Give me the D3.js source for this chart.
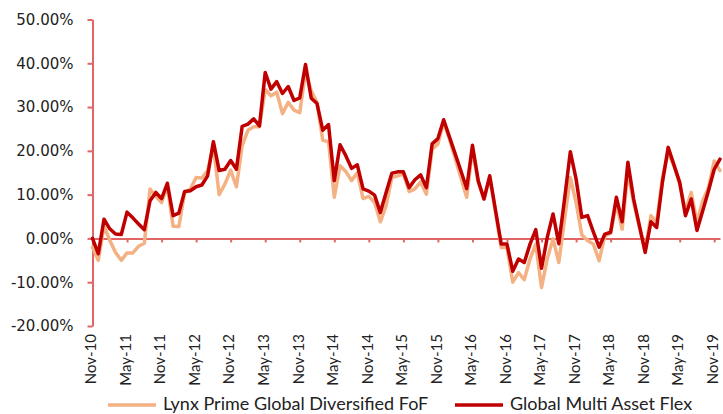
<!DOCTYPE html>
<html>
<head>
<meta charset="utf-8">
<script src="https://cdn.jsdelivr.net/npm/d3@7"></script>
<style>
  body { margin: 0; background: #fff; }
</style>
</head>
<body>
<div id="chart"></div>
<script>
// monthly returns, Nov-10 .. Dec-19 (percent)
const tickLabels = ["Nov-10", "May-11", "Nov-11", "May-12", "Nov-12", "May-13", "Nov-13", "May-14", "Nov-14",
    "May-15", "Nov-15", "May-16", "Nov-16", "May-17", "Nov-17", "May-18", "Nov-18", "May-19", "Nov-19"];

const yTicks = [-20, -10, 0, 10, 20, 30, 40, 50];

const seriesNames = ["Lynx Prime Global Diversified FoF", "Global Multi Asset Flex"];

const lynx = [
    -2.0, -5.0, 2.8, -0.4, -3.2, -5.0, -3.3, -3.3, -1.8, -1.1,
    11.3, 9.6, 8.2, 12.0, 2.8, 2.7, 10.5, 11.3, 13.9, 13.8,
    15.5, 21.2, 10.0, 12.4, 15.6, 11.8, 21.2, 24.7, 25.5, 25.5,
    34.0, 32.6, 33.4, 28.5, 31.1, 29.3, 28.7, 38.2, 33.7, 31.0,
    22.4, 22.1, 9.4, 16.6, 15.3, 13.2, 15.0, 9.1, 9.6, 8.2,
    3.8, 7.5, 13.9, 14.3, 14.7, 10.7, 11.3, 12.9, 10.1, 20.4,
    21.6, 26.5, 22.7, 18.3, 13.8, 9.4, 20.4, 12.8, 9.0, 13.9,
    6.0, -2.1, -2.1, -10.0, -7.8, -9.4, -4.7, -1.3, -11.2, -4.6,
    -0.1, -5.5, 4.4, 13.9, 8.2, 0.8, -0.5, -1.3, -5.1, 0.6,
    1.2, 7.9, 2.1, 15.1, 8.2, 2.5, -2.8, 5.2, 3.7, 13.9,
    19.6, 16.6, 12.4, 6.3, 10.5, 3.7, 8.6, 11.6, 17.7, 15.5
];

const flex = [
    0.0, -3.5, 4.4, 2.2, 1.0, 0.9, 6.0, 4.7, 3.3, 2.0,
    8.6, 10.5, 9.1, 12.6, 5.2, 5.8, 10.7, 10.9, 11.8, 12.2,
    14.3, 22.1, 15.5, 15.8, 17.8, 15.8, 25.6, 26.1, 27.3, 25.7,
    37.9, 34.1, 35.8, 33.1, 34.7, 31.5, 32.1, 39.7, 32.0, 30.8,
    24.7, 26.0, 13.2, 21.4, 18.9, 16.0, 16.8, 11.3, 10.8, 9.9,
    5.9, 10.5, 14.9, 15.2, 15.2, 11.6, 13.4, 14.5, 11.6, 21.6,
    22.8, 27.1, 23.2, 19.3, 15.4, 11.4, 21.3, 13.2, 9.0, 14.3,
    6.5, -1.3, -1.3, -7.5, -4.7, -5.5, -1.3, 2.0, -6.8, 0.3,
    5.6, -1.2, 9.0, 19.8, 13.6, 4.8, 5.2, 1.5, -2.0, 1.0,
    1.4, 9.4, 3.8, 17.4, 9.0, 2.9, -3.2, 3.8, 2.5, 12.8,
    20.8, 16.8, 12.8, 5.2, 9.0, 1.8, 6.3, 10.9, 15.8, 18.1
];

const colors = ["#f4b183", "#c00000"];
const axisColor = "#e06666";

const width = 723, height = 414;

const svg = d3.select('#chart')
    .append('svg')
    .attr('width', width)
    .attr('height', height)
    .style('font-family', 'Lato, sans-serif');

const x = d3.scaleLinear().domain([0, lynx.length - 1]).range([92.5, 720]);
const y = d3.scaleLinear().domain([-20, 50]).range([326, 19.5]);

// y axis
const yAxis = svg.append('g')
    .attr('transform', 'translate(92.5,0)')
    .call(d3.axisLeft(y)
        .tickValues(yTicks)
        .tickSize(5)
        .tickSizeOuter(0)
        .tickPadding(14)
        .tickFormat(d => d.toFixed(2) + '%'));

yAxis.select('.domain').attr('stroke', axisColor).attr('stroke-width', 2);
yAxis.selectAll('.tick line').attr('stroke', axisColor).attr('stroke-width', 2);
yAxis.selectAll('.tick text')
    .attr('fill', '#222')
    .style('font-family', '"DejaVu Sans", sans-serif')
    .style('font-size', '15px');

// x axis at zero
const tickIdx = tickLabels.map((d, i) => i * 6);

const xAxis = svg.append('g')
    .attr('transform', `translate(0,${y(0)})`)
    .call(d3.axisBottom(x)
        .tickValues(tickIdx)
        .tickSize(4)
        .tickSizeOuter(0)
        .tickFormat(''));

xAxis.select('.domain').attr('stroke', axisColor).attr('stroke-width', 2);
xAxis.selectAll('.tick line').attr('stroke', axisColor).attr('stroke-width', 2);

svg.append('g')
    .selectAll('text')
    .data(tickLabels)
    .join('text')
    .attr('transform', (d, i) => `translate(${x(tickIdx[i])},334) rotate(-90)`)
    .attr('text-anchor', 'end')
    .attr('dominant-baseline', 'middle')
    .attr('fill', '#222')
    .style('font-size', '15px')
    .text(d => d);

// lines
const line = d3.line()
    .x((d, i) => x(i))
    .y(d => y(d));

[lynx, flex].forEach((s, k) => {
    svg.append('path')
        .datum(s)
        .attr('d', line)
        .attr('fill', 'none')
        .attr('stroke', colors[k])
        .attr('stroke-width', 3.5)
        .attr('stroke-linejoin', 'round')
        .attr('stroke-linecap', 'round');
});

// legend
const legendX = [108, 455];
const legend = svg.append('g')
    .selectAll('g')
    .data(seriesNames)
    .join('g')
    .attr('transform', (d, i) => `translate(${legendX[i]},405)`);

legend.append('line')
    .attr('x1', 0)
    .attr('x2', 48)
    .attr('stroke', (d, i) => colors[i])
    .attr('stroke-width', 3.5);

legend.append('text')
    .attr('x', 55)
    .attr('dominant-baseline', 'middle')
    .attr('fill', '#222')
    .style('font-size', '18px')
    .text(d => d);
</script>
</body>
</html>
